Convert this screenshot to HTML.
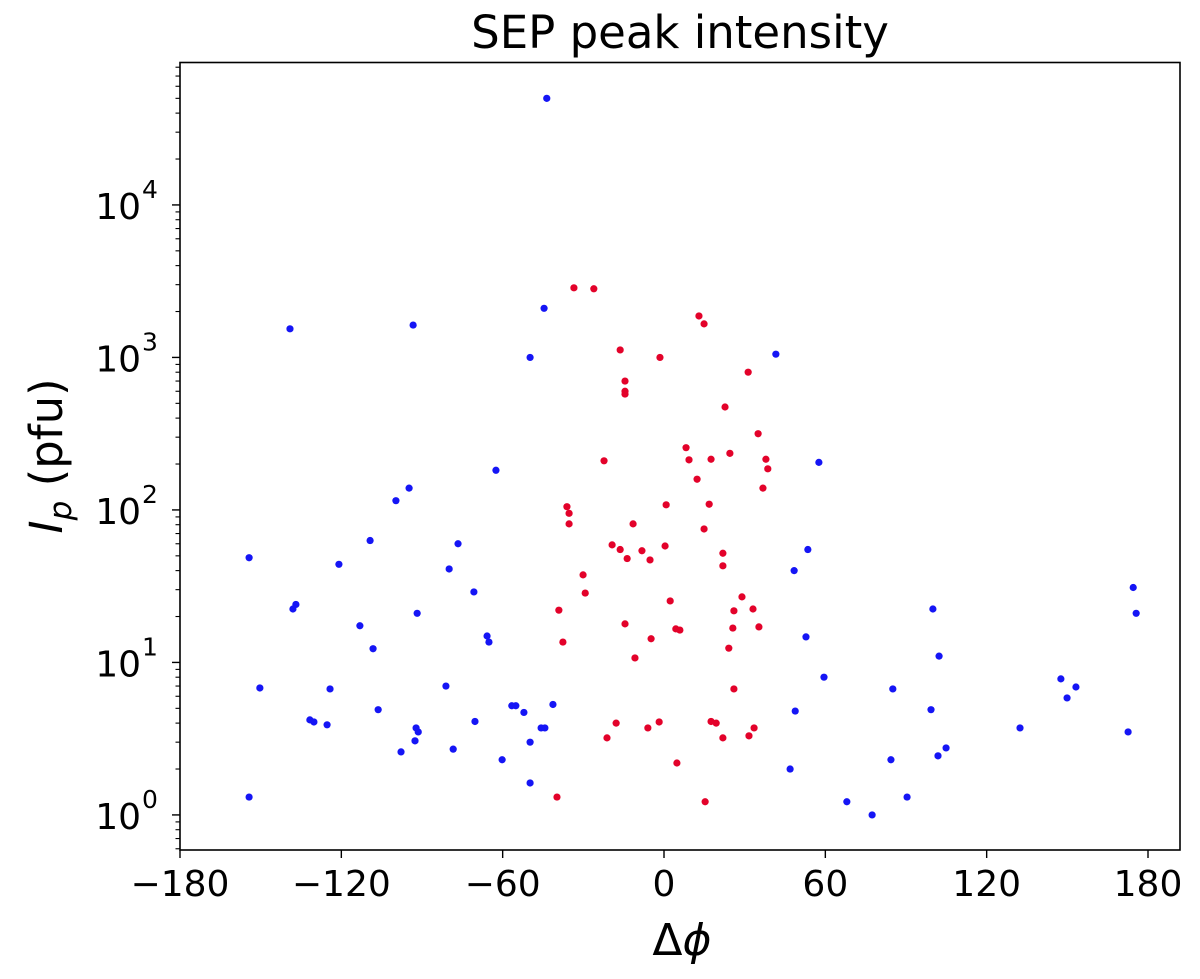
<!DOCTYPE html>
<html><head><meta charset="utf-8"><style>
html,body{margin:0;padding:0;background:#fff}
svg{display:block;font-family:"DejaVu Sans","Liberation Sans",sans-serif}
</style></head><body>
<svg id="chart" width="1200" height="979" viewBox="0 0 1200 979" xmlns="http://www.w3.org/2000/svg">
<text x="680" y="48" font-size="45" text-anchor="middle">SEP peak intensity</text>
<g id="marks"></g>
<g id="axes"></g>
<text x="682" y="955" font-size="44" text-anchor="middle">Δ<tspan font-style="italic">ϕ</tspan></text>
<text transform="translate(62,456) rotate(-90)" font-size="45" text-anchor="middle"><tspan font-style="italic">I</tspan><tspan font-style="italic" font-size="31" dy="9">p</tspan><tspan dy="-9"> (pfu)</tspan></text>
</svg>
<script>
const blueX=[-43.6,-139.1,-93.3,-44.6,-49.8,41.6,-62.5,57.6,-94.8,-99.7,-109.3,-154.3,-120.9,-76.6,53.5,48.4,-70.7,-79.9,-138.0,-136.9,-91.8,-113.1,-65.8,-65.1,52.8,100.0,174.5,175.6,-108.2,102.3,59.5,-150.3,-124.2,-81.1,85.1,147.6,153.2,149.9,-106.3,48.8,99.3,-41.3,-55.1,-56.6,-52.1,-131.7,-130.2,-125.3,-70.3,-92.2,-91.4,-92.6,-45.7,-44.3,132.4,172.6,-78.4,-97.8,104.9,101.9,-60.2,-49.8,46.9,84.4,-49.8,-154.3,68.0,90.4,77.4];
const blueY=[50000,1540,1630,2100,1000,1050,182,205,139,115,63,48.6,44,60,55,40,29,41,22.4,24,21,17.4,14.9,13.6,14.7,22.4,31,21,12.3,11,8.0,6.8,6.7,7.0,6.7,7.8,6.9,5.85,4.9,4.8,4.9,5.3,5.2,5.2,4.7,4.2,4.07,3.9,4.1,3.72,3.5,3.06,3.72,3.72,3.72,3.5,2.7,2.59,2.75,2.44,2.3,3.0,2.0,2.3,1.62,1.31,1.22,1.31,1.0];
const redX=[-33.5,-26.1,13.0,14.9,-16.3,-1.5,-14.5,-14.5,-14.5,31.3,22.7,35.0,24.5,37.9,38.6,8.2,9.3,-22.3,17.5,12.3,36.8,-36.1,0.8,-35.3,16.8,-35.3,-11.5,14.9,-19.3,-16.3,0.4,-13.7,-8.2,-5.2,21.9,21.9,-30.1,-29.3,2.3,29.0,-39.1,26.0,33.1,4.4,5.9,25.6,35.3,-14.5,-4.8,-37.6,24.1,-10.8,26.0,-17.8,-21.2,-1.8,-6.0,17.5,19.4,21.9,33.5,31.6,4.8,-39.8,15.3];
const redY=[2860,2820,1870,1660,1120,1000,700,600,575,800,473,316,235,215,186,256,213,210,215,159,139,105,108,95,109,81,81,75,59,55,58,48,54,47,52,43,37.5,28.5,25.3,26.9,22,21.8,22.4,16.6,16.3,16.8,17.1,17.9,14.3,13.6,12.4,10.7,6.7,4.0,3.2,4.07,3.72,4.1,4.0,3.2,3.72,3.3,2.19,1.31,1.22];
const xTicks=[-180,-120,-60,0,60,120,180];
const xTickLabels=["\u2212180","\u2212120","\u221260","0","60","120","180"];
const yTickExps=[0,1,2,3,4];

const L=180,R=1180,T=62.5,B=850;
const xMin=-180,xMax=191.9,lMin=-0.23,lMax=4.934;
function sx(v){return L+(v-xMin)/(xMax-xMin)*(R-L);}
function sy(v){return B-(Math.log10(v)-lMin)/(lMax-lMin)*(B-T);}
const NS="http://www.w3.org/2000/svg";
function mk(tag,attrs,parent){const e=document.createElementNS(NS,tag);for(const k in attrs)e.setAttribute(k,attrs[k]);parent.appendChild(e);return e;}
const marks=document.getElementById('marks'),axes=document.getElementById('axes');
blueX.forEach((x,i)=>{
  const c=mk('circle',{cx:sx(x),cy:sy(blueY[i]),r:3.6,fill:'#1515f5'},marks);
  
  
});
redX.forEach((x,i)=>{
  const c=mk('circle',{cx:sx(x),cy:sy(redY[i]),r:3.6,fill:'#e3022a'},marks);
  
  
});
const frame=mk('rect',{x:L,y:T,width:R-L,height:B-T,fill:'none',stroke:'#000','stroke-width':1.6},axes);


xTicks.forEach((t,i)=>{
  const X=sx(t);
  const tk=mk('line',{x1:X,y1:B,x2:X,y2:B+8,stroke:'#000','stroke-width':1.4},axes);
  
  
  const tx=mk('text',{x:X,y:B+46,'font-size':36,'text-anchor':'middle'},axes);
  tx.textContent=xTickLabels[i];
  
  
});
for(let e=-1;e<=5;e++){
  for(let m=1;m<10;m++){
    const v=m*Math.pow(10,e);const lv=Math.log10(v);
    if(lv<lMin||lv>lMax)continue;
    const Y=sy(v);const major=(m===1);
    const tk=mk('line',{x1:L,y1:Y,x2:L-(major?8:4.5),y2:Y,stroke:'#000','stroke-width':major?1.4:1.1},axes);
    
    
  }
}
yTickExps.forEach(e=>{
  const Y=sy(Math.pow(10,e));
  const tx=mk('text',{x:141,y:Y+14,'font-size':36,'text-anchor':'end'},axes);
  tx.textContent='10';
  
  
  const sp=mk('text',{x:142,y:Y-7,'font-size':25,'text-anchor':'start'},axes);
  sp.textContent=String(e);
  
  
});
</script>
</body></html>
